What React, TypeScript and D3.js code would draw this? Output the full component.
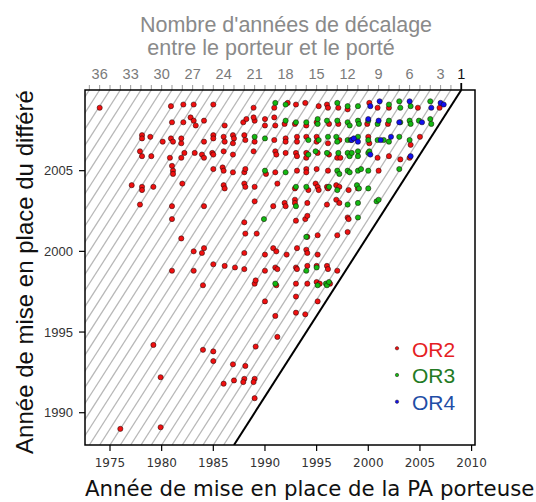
import React from "react";
import * as d3 from "d3";

// Year of the carrier measure (x) vs year of the deferred measure (y), by group
const OR2: [number, number][] = [
  // 2009
  [1974.0, 2008.9], [1980.9, 2009.0], [1982.1, 2009.1], [1983.1, 2009.1], [1985.0, 2009.1],
  [1988.9, 2008.9], [1990.9, 2008.9], [1992.2, 2009.2], [1993.0, 2009.1], [1993.9, 2009.2],
  [1995.2, 2009.0], [1996.0, 2009.1], [1996.1, 2008.9], [1997.1, 2008.9], [1998.0, 2008.8],
  [2000.1, 2009.2], [2000.9, 2008.9], [2002.0, 2008.9], [2004.8, 2008.9], [2006.9, 2008.9],
  // 2008
  [1981.0, 2008.0], [1982.1, 2008.0], [1982.8, 2008.3], [1983.1, 2008.1], [1983.3, 2007.8],
  [1984.1, 2008.1], [1986.1, 2007.8], [1987.9, 2008.0], [1988.2, 2008.2], [1989.0, 2008.1],
  [1988.9, 2008.3], [1990.0, 2008.2], [1990.0, 2007.8], [1990.9, 2008.3], [1991.0, 2007.8],
  [1991.9, 2007.9], [1992.9, 2007.9], [1994.0, 2007.8], [1995.0, 2008.0], [1996.2, 2007.9],
  [1997.1, 2007.9], [1999.9, 2007.9], [2001.9, 2007.9],
  // 2007
  [1978.1, 2007.2], [1978.1, 2007.0], [1978.9, 2007.1], [1980.1, 2006.8], [1980.9, 2007.0],
  [1981.1, 2006.8], [1981.9, 2006.7], [1981.9, 2007.0], [1984.1, 2006.8], [1985.0, 2007.2],
  [1985.0, 2007.0], [1986.0, 2007.1], [1986.1, 2006.8], [1986.9, 2007.2], [1987.0, 2007.0],
  [1986.9, 2006.7], [1988.0, 2007.2], [1988.1, 2006.9], [1989.0, 2006.8], [1990.9, 2006.9],
  [1992.0, 2007.0], [1992.0, 2006.8], [1993.1, 2007.1], [1993.1, 2006.8], [1994.0, 2007.1],
  [1995.0, 2007.1], [1995.0, 2006.8], [1996.1, 2006.7], [1997.2, 2006.9], [2000.0, 2007.1],
  [2000.1, 2006.7], [2004.1, 2006.6], [2005.0, 2007.1],
  // 2006
  [1977.9, 2006.2], [1978.1, 2005.9], [1979.0, 2005.9], [1980.8, 2005.8], [1981.9, 2005.8],
  [1982.2, 2006.1], [1983.2, 2006.1], [1983.9, 2006.0], [1984.1, 2005.8], [1984.9, 2006.1],
  [1985.0, 2006.0], [1986.0, 2006.2], [1986.9, 2006.0], [1988.9, 2006.2], [1991.0, 2006.2],
  [1991.1, 2006.0], [1992.0, 2006.1], [1993.0, 2006.1], [1993.1, 2005.9], [1994.0, 2006.1],
  [1994.0, 2005.8], [1995.1, 2006.1], [1996.2, 2006.0], [1997.0, 2005.8], [1997.3, 2005.8],
  [2000.9, 2005.8], [2002.0, 2005.9], [2003.1, 2005.7], [2004.0, 2005.8],
  // 2005
  [1981.0, 2005.3], [1981.1, 2005.0], [1981.1, 2004.8], [1985.0, 2005.1], [1985.9, 2005.2],
  [1986.0, 2005.0], [1986.9, 2004.9], [1988.0, 2004.9], [1988.1, 2005.1], [1990.1, 2004.8],
  [1991.0, 2004.9], [1993.1, 2005.0], [1994.0, 2005.1], [1994.0, 2004.9], [1995.0, 2005.1],
  [1996.1, 2005.0], [2001.0, 2005.0],
  // 2004
  [1977.1, 2004.1], [1978.1, 2004.0], [1978.1, 2003.8], [1979.2, 2004.0], [1982.0, 2004.2],
  [1986.0, 2004.1], [1986.1, 2003.9], [1988.0, 2004.2], [1988.1, 2004.0], [1989.0, 2004.0],
  [1991.2, 2004.2], [1992.9, 2003.9], [1994.2, 2003.8], [1994.9, 2004.2], [1995.1, 2004.0],
  [1995.2, 2003.8], [1996.0, 2004.0], [1996.1, 2003.9], [1996.9, 2004.1], [1997.2, 2004.0],
  [1998.1, 2003.8], [1999.0, 2003.9],
  // 2003
  [1977.9, 2002.9], [1981.0, 2002.8], [1984.1, 2002.8], [1989.0, 2003.1], [1990.8, 2002.8],
  [1991.9, 2003.0], [1992.0, 2002.8], [1992.9, 2003.2], [1992.9, 2003.0], [1994.1, 2003.0],
  [1996.0, 2002.9], [1996.9, 2003.2], [1997.2, 2003.0],
  // 2002
  [1981.0, 2002.0], [1988.0, 2001.8], [1993.0, 2001.9], [1993.9, 2002.0], [1994.1, 2002.2],
  [1998.0, 2002.1], [1998.1, 2002.0],
  // 2001
  [1981.9, 2000.8], [1988.1, 2001.1], [1989.2, 2001.1], [1994.1, 2000.9], [1995.1, 2001.0],
  [1997.0, 2001.0], [1998.0, 2001.2],
  // 2000
  [1983.1, 2000.0], [1983.9, 1999.9], [1984.1, 2000.2], [1988.0, 1999.9], [1990.0, 1999.8],
  [1990.8, 2000.2], [1991.1, 2000.0], [1992.1, 1999.8], [1993.1, 2000.2], [1994.0, 2000.1],
  [1994.1, 1999.9], [1995.1, 1999.8],
  // 1999
  [1981.0, 1998.8], [1983.1, 1998.8], [1985.0, 1999.2], [1986.1, 1999.1], [1987.1, 1999.0],
  [1988.0, 1998.9], [1990.0, 1998.8], [1991.0, 1999.0], [1991.2, 1998.9], [1993.0, 1999.0],
  [1993.1, 1998.9], [1994.1, 1999.1], [1995.0, 1999.1], [1996.0, 1999.1], [1996.1, 1998.9],
  [1997.0, 1998.8],
  // 1998
  [1984.0, 1997.9], [1989.0, 1998.0], [1989.1, 1998.2], [1991.1, 1997.9], [1993.0, 1998.0],
  [1994.1, 1998.0], [1995.0, 1998.1], [1995.3, 1998.0], [1996.3, 1998.0],
  // 1997 - 1989
  [1990.0, 1996.9], [1993.0, 1997.2], [1995.1, 1996.9],
  [1991.0, 1996.0], [1993.0, 1996.2], [1993.9, 1996.1],
  [1991.2, 1994.7],
  [1979.2, 1994.2], [1984.0, 1993.9], [1985.0, 1993.8], [1989.1, 1994.1],
  [1985.0, 1993.2], [1986.9, 1993.0], [1988.1, 1992.9],
  [1979.9, 1992.2], [1986.0, 1991.8], [1987.0, 1992.0], [1988.0, 1992.1], [1987.9, 1991.9],
  [1989.0, 1992.1], [1988.9, 1991.9],
  [1989.0, 1990.9],
  [1976.0, 1989.0], [1979.9, 1989.1],
];

const OR3: [number, number][] = [
  [1991.0, 2009.2], [1992.0, 2009.1], [1997.0, 2009.2], [1998.0, 2009.0], [1999.0, 2009.0],
  [2002.0, 2009.1], [2003.0, 2009.3], [2003.1, 2008.9], [2004.1, 2009.0], [2006.0, 2009.3],
  [1992.0, 2008.1], [1993.0, 2008.0], [1994.0, 2008.0], [1995.1, 2007.9], [1995.1, 2008.2],
  [1996.0, 2008.1], [1997.0, 2008.1], [1998.0, 2008.0], [1998.2, 2007.8], [1999.0, 2008.1],
  [1999.1, 2007.9], [2000.0, 2008.1], [2000.9, 2007.9], [2002.0, 2008.1], [2003.1, 2008.0],
  [2004.0, 2008.1], [2004.1, 2007.9], [2004.9, 2008.1], [2006.0, 2008.2], [2006.1, 2007.9],
  [1989.0, 2007.1], [1990.0, 2007.0], [1994.2, 2006.9], [1995.2, 2006.9], [1996.1, 2007.1],
  [1996.9, 2007.1], [1997.0, 2006.8], [1998.0, 2006.9], [1998.3, 2006.9], [1999.0, 2007.1],
  [2000.0, 2006.9], [2000.9, 2006.9], [2001.5, 2006.9], [2002.0, 2006.8], [2003.0, 2007.1],
  [2004.0, 2006.9],
  [1994.2, 2006.0], [1994.9, 2006.2], [1996.0, 2006.1], [1997.1, 2006.1], [1998.0, 2006.1],
  [1998.2, 2005.9], [1998.4, 2006.1], [1999.0, 2006.2], [1999.0, 2005.9], [2000.0, 2006.1],
  [2000.1, 2006.2],
  [1990.0, 2005.0], [1992.0, 2004.9], [1997.0, 2005.0], [1997.2, 2004.8], [1998.0, 2005.0],
  [1998.2, 2004.9], [1999.0, 2005.0], [1999.3, 2005.1], [2000.0, 2005.0], [2003.0, 2005.1],
  [1993.0, 2004.0], [1994.0, 2004.0], [1996.2, 2004.0], [1997.0, 2003.8], [1998.9, 2004.1],
  [1999.1, 2003.9], [2000.0, 2003.9],
  [1993.0, 2002.8], [1998.0, 2002.9], [1999.0, 2003.0], [2000.8, 2003.1], [2001.0, 2003.2],
  [1989.9, 2002.0], [1999.0, 2002.1],
  [1994.0, 2000.9],
  [1994.0, 1998.8], [1995.0, 1999.0],
  [1991.0, 1998.0], [1995.1, 1997.9], [1995.9, 1998.0], [1996.0, 1997.9], [1996.2, 1998.1],
];

const OR4: [number, number][] = [
  [2000.2, 2009.0], [2001.1, 2009.3], [2004.0, 2009.3], [2006.1, 2008.9], [2007.0, 2009.2],
  [2007.3, 2009.1],
  [2000.0, 2008.2], [2001.0, 2008.1], [2003.0, 2008.0], [2005.2, 2008.0],
  [1998.4, 2006.9], [1998.6, 2007.0], [1999.0, 2006.8], [2001.2, 2006.9], [2002.2, 2007.1],
  [2000.2, 2006.0], [2004.1, 2005.9],
];

const seriesNames = ["OR2", "OR3", "OR4"];
const seriesFill = ["#f01010", "#12b812", "#1010f0"];
const legendText = ["#e51d23", "#237a23", "#1f4ea6"];

const xTicks = [1975, 1980, 1985, 1990, 1995, 2000, 2005, 2010];
const yTicks = [1990, 1995, 2000, 2005];
const offsetLabels = [36, 33, 30, 27, 24, 21, 18, 15, 12, 9, 6, 3, 1];
const offsetMinor = d3.range(2, 38);

const W = 536;
const H = 502;
const L = 85, R = 475, T = 90, B = 445;

export default function App() {
  const x = d3.scaleLinear().domain([1972.58, 2010.33]).range([L, R]);
  const y = d3.scaleLinear().domain([1988, 2010]).range([B, T]);
  const yTop = 2010;
  const yBot = 1988;

  const line = d3.line<[number, number]>().x((d) => x(d[0])).y((d) => y(d[1]));
  const series = [OR2, OR3, OR4];

  return (
    <svg
      width={W}
      height={H}
      style={{ position: "absolute", left: 0, top: 0, background: "#fff" }}
      fontFamily="'Liberation Sans', Arial, sans-serif"
    >
      <defs>
        <clipPath id="plotClip">
          <rect x={L} y={T} width={R - L} height={B - T} />
        </clipPath>
      </defs>

      {/* titles for the offset axis */}
      <text x={286} y={32} textAnchor="middle" fontSize={21.5} fill="#8a8a8a">
        Nombre d'années de décalage
      </text>
      <text x={271} y={55} textAnchor="middle" fontSize={21.5} fill="#8a8a8a">
        entre le porteur et le porté
      </text>

      {/* hatching: one line per year of offset */}
      <g clipPath="url(#plotClip)" stroke="#b8b8b8" strokeWidth={1.3}>
        {offsetMinor.map((d) => (
          <path key={d} d={line([[yBot - d, yBot], [yTop - d, yTop]]) || ""} />
        ))}
      </g>

      {/* offset ticks above the frame */}
      <g stroke="#9a9a9a" strokeWidth={1}>
        {offsetMinor.map((d) => (
          <line key={d} x1={x(yTop - d)} x2={x(yTop - d)} y1={T - 5} y2={T} />
        ))}
      </g>
      <g fontSize={14.5} textAnchor="middle">
        {offsetLabels.map((d) => (
          <text key={d} x={x(yTop - d)} y={79} fill={d === 1 ? "#111" : "#7a7a7a"}>
            {d}
          </text>
        ))}
      </g>

      {/* points */}
      {series.map((pts, i) => (
        <g key={seriesNames[i]} fill={seriesFill[i]} stroke="#1a0a0a" strokeWidth={0.7} strokeOpacity={0.75}>
          {pts.map((p, j) => (
            <circle key={j} cx={x(p[0])} cy={y(p[1])} r={2.6} />
          ))}
        </g>
      ))}

      {/* diagonal: offset of one year */}
      <g clipPath="url(#plotClip)">
        <path d={line([[yBot - 1, yBot], [yTop - 1, yTop]]) || ""} stroke="#000" strokeWidth={2} fill="none" />
      </g>
      <line x1={x(yTop - 1)} x2={x(yTop - 1)} y1={T - 7} y2={T} stroke="#000" strokeWidth={1.8} />

      {/* frame */}
      <rect x={L} y={T} width={R - L} height={B - T} fill="none" stroke="#000" strokeWidth={1.5} />

      {/* left axis */}
      <g>
        {yTicks.map((t) => (
          <g key={t}>
            <line x1={L - 6} x2={L} y1={y(t)} y2={y(t)} stroke="#000" strokeWidth={1.2} />
            <text x={L - 12} y={y(t)} dy="0.35em" textAnchor="end" fontSize={13} fill="#333">
              {t}
            </text>
          </g>
        ))}
      </g>
      <text
        transform={`translate(33,${272}) rotate(-90)`}
        textAnchor="middle"
        fontSize={24}
        fill="#111"
      >
        Année de mise en place du différé
      </text>

      {/* bottom axis */}
      <g>
        {xTicks.map((t) => (
          <g key={t}>
            <line x1={x(t)} x2={x(t)} y1={B} y2={B + 6} stroke="#000" strokeWidth={1.2} />
            <text x={x(t)} y={467} textAnchor="middle" fontSize={12} fill="#333" fontFamily="'DejaVu Sans', sans-serif">
              {t}
            </text>
          </g>
        ))}
      </g>
      <text x={85} y={496} fontSize={21.3} fill="#111" fontFamily="'DejaVu Sans', sans-serif">
        Année de mise en place de la PA porteuse
      </text>

      {/* legend */}
      {seriesNames.map((n, i) => (
        <g key={n}>
          <circle cx={397} cy={348.3 + i * 26.7} r={1.7} fill={seriesFill[i]} stroke="#2a1a1a" strokeWidth={0.5} />
          <text x={412} y={356.5 + i * 26.7} fontSize={21} fill={legendText[i]}>
            {n}
          </text>
        </g>
      ))}
    </svg>
  );
}
